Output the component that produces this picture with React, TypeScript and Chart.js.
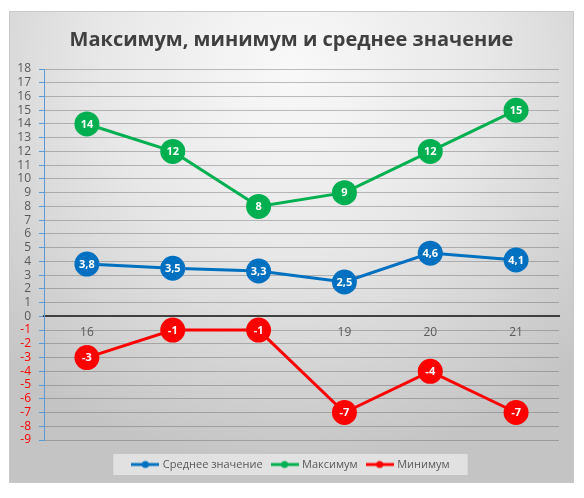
import React, { useEffect, useRef } from "react";
import { Chart, registerables } from "chart.js";

Chart.register(...registerables);

const categories = ["16", "17", "18", "19", "20", "21"];
const avgValues = [3.8, 3.5, 3.3, 2.5, 4.6, 4.1];
const maxValues = [14, 12, 8, 9, 12, 15];
const minValues = [-3, -1, -1, -7, -4, -7];
const seriesNames = ["Среднее значение", "Максимум", "Минимум"];
const title = "Максимум, минимум и среднее значение";
const yMin = -9;
const yMax = 18;

const COLORS = ["#0070C0", "#00B050", "#FF0000"];
const FONT = "'Open Sans', 'DejaVu Sans', sans-serif";

function legendMarker(color: string): HTMLCanvasElement {
  const c = document.createElement("canvas");
  c.width = 28;
  c.height = 10;
  const g = c.getContext("2d")!;
  g.strokeStyle = color;
  g.lineWidth = 3;
  g.beginPath();
  g.moveTo(0, 5);
  g.lineTo(28, 5);
  g.stroke();
  g.fillStyle = color;
  g.beginPath();
  g.arc(14, 5, 3.5, 0, Math.PI * 2);
  g.fill();
  return c;
}

const pointLabelPlugin = {
  id: "pointLabels",
  afterDatasetsDraw(chart: any) {
    const ctx = chart.ctx;
    ctx.save();
    ctx.font = `bold 11px ${FONT}`;
    ctx.fillStyle = "#ffffff";
    ctx.textAlign = "center";
    ctx.textBaseline = "middle";
    chart.data.datasets.forEach((ds: any, i: number) => {
      const meta = chart.getDatasetMeta(i);
      meta.data.forEach((pt: any, j: number) => {
        const v = ds.data[j];
        ctx.fillText(String(v).replace(".", ","), pt.x, pt.y + 0.5);
      });
    });
    ctx.restore();
  },
};

const legendBoxPlugin = {
  id: "legendBox",
  beforeDraw(chart: any) {
    const lg = chart.legend;
    if (!lg || !lg.legendHitBoxes || !lg.legendHitBoxes.length) return;
    const boxes = lg.legendHitBoxes;
    let l = Infinity, r = -Infinity, t = Infinity, b = -Infinity;
    boxes.forEach((h: any) => {
      l = Math.min(l, h.left);
      r = Math.max(r, h.left + h.width);
      t = Math.min(t, h.top);
      b = Math.max(b, h.top + h.height);
    });
    const ctx = chart.ctx;
    ctx.save();
    ctx.fillStyle = "rgba(235,235,235,0.75)";
    ctx.fillRect(l - 20, t - 5, r - l + 38, b - t + 10);
    ctx.restore();
  },
};

export default function App() {
  const ref = useRef<HTMLCanvasElement | null>(null);

  useEffect(() => {
    if (!ref.current) return;
    const markers = COLORS.map(legendMarker);
    const chart = new Chart(ref.current, {
      type: "line",
      data: {
        labels: categories,
        datasets: [avgValues, maxValues, minValues].map((d, i) => ({
          label: seriesNames[i],
          data: d,
          borderColor: COLORS[i],
          backgroundColor: COLORS[i],
          pointBackgroundColor: COLORS[i],
          pointBorderColor: COLORS[i],
          borderWidth: 3,
          pointRadius: 11,
          pointHoverRadius: 11,
          tension: 0,
        })),
      },
      options: {
        animation: false,
        responsive: false,
        maintainAspectRatio: false,
        layout: { padding: { left: 0, right: 0, top: 0, bottom: 2 } },
        plugins: {
          tooltip: { enabled: false },
          title: {
            display: true,
            text: title,
            color: "#404040",
            font: { family: FONT, size: 20, weight: "bold" },
            padding: { top: 16, bottom: 17 },
          },
          legend: {
            position: "bottom",
            labels: {
              usePointStyle: true,
              pointStyleWidth: 24,
              color: "#595959",
              font: { family: FONT, size: 11 },
              padding: 10,
              generateLabels: (chart: any) =>
                chart.data.datasets.map((ds: any, i: number) => ({
                  text: ds.label,
                  pointStyle: markers[i],
                  fillStyle: COLORS[i],
                  strokeStyle: COLORS[i],
                  lineWidth: 0,
                  fontColor: "#595959",
                  datasetIndex: i,
                  hidden: false,
                })),
            },
          },
        },
        scales: {
          x: {
            position: { y: 0 } as any,
            offset: true,
            grid: { display: false, drawTicks: false },
            border: { display: true, color: "#404040", width: 2 },
            ticks: {
              color: "#595959",
              font: { family: FONT, size: 12 },
              padding: 9,
            },
          },
          spacer: {
            type: "category",
            position: "bottom",
            display: true,
            grid: { display: false, drawTicks: false },
            border: { display: false },
            ticks: { display: false },
            afterFit: (s: any) => {
              s.height = 9;
            },
          },
          y: {
            min: yMin,
            max: yMax,
            afterFit: (s: any) => {
              s.width = 34;
            },
            grid: {
              color: "rgba(90,90,90,0.38)",
              tickColor: "#5B9BD5",
              tickLength: 5,
              drawTicks: true,
            },
            border: { display: true, color: "#5B9BD5", width: 1 },
            ticks: {
              stepSize: 1,
              autoSkip: false,
              padding: 8,
              font: { family: FONT, size: 12 },
              color: (c: any) => (c.tick && c.tick.value < 0 ? "#FF0000" : "#595959"),
            },
          },
          rightSpacer: {
            type: "linear",
            position: "right",
            display: true,
            grid: { display: false, drawTicks: false },
            border: { display: false },
            ticks: { display: false },
            afterFit: (s: any) => {
              s.width = 14;
            },
          },
        },
      },
      plugins: [legendBoxPlugin, pointLabelPlugin],
    } as any);
    return () => chart.destroy();
  }, []);

  return (
    <div style={{ width: 568, height: 482, position: "relative" }}>
      <div
        style={{
          position: "absolute",
          left: 1,
          top: 3,
          width: 563,
          height: 470,
          border: "1px solid #c8c8c8",
          background:
            "radial-gradient(ellipse 75% 85% at 50% 12%, #f9f9f9 0%, #e8e8e8 45%, #c4c4c4 100%)",
        }}
      >
        <canvas ref={ref} width={563} height={470} style={{ display: "block" }} />
      </div>
    </div>
  );
}
